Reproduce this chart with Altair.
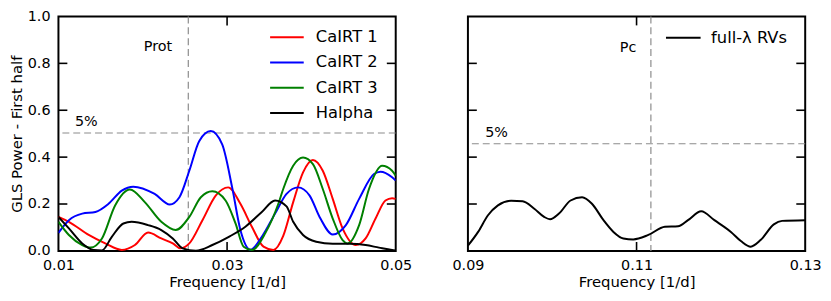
import altair as alt
import pandas as pd

# ---------------- data: left panel (first half) ----------------
series_names = ["CaIRT 1", "CaIRT 2", "CaIRT 3", "Halpha"]
series_colors = ["#ff0000", "#0000ff", "#008000", "#000000"]

f_cairt1 = [0.0100, 0.01124, 0.01359, 0.01555, 0.01751, 0.01907, 0.02063, 0.0222, 0.02356, 0.02445,
            0.02552, 0.02708, 0.02865, 0.03013, 0.03158, 0.03294, 0.03432, 0.03549, 0.03666, 0.03784,
            0.03901, 0.04018, 0.04135, 0.04253, 0.0437, 0.04526, 0.04643, 0.04761, 0.04878, 0.04957, 0.0500]
p_cairt1 = [0.145, 0.124, 0.068, 0.032, 0.004, 0.025, 0.078, 0.053, 0.032, 0.011,
            0.032, 0.131, 0.236, 0.271, 0.201, 0.103, 0.018, 0.004, 0.064, 0.208,
            0.335, 0.388, 0.342, 0.222, 0.096, 0.025, 0.053, 0.138, 0.215, 0.225, 0.222]

f_cairt2 = [0.0100, 0.01124, 0.01282, 0.01438, 0.01594, 0.01751, 0.01887, 0.02141, 0.0232, 0.02435,
            0.02552, 0.02669, 0.02806, 0.02942, 0.0306, 0.03158, 0.03276, 0.03412, 0.03569, 0.03705,
            0.03842, 0.03979, 0.04097, 0.04253, 0.04409, 0.04566, 0.04742, 0.04819, 0.04957, 0.0500]
p_cairt2 = [0.077, 0.131, 0.159, 0.166, 0.201, 0.257, 0.274, 0.243, 0.198, 0.229,
            0.342, 0.468, 0.511, 0.454, 0.271, 0.089, 0.005, 0.060, 0.159, 0.243,
            0.271, 0.236, 0.145, 0.070, 0.110, 0.222, 0.328, 0.338, 0.314, 0.300]

f_cairt3 = [0.0100, 0.01124, 0.01282, 0.01379, 0.01516, 0.01672, 0.01848, 0.02024, 0.0222, 0.0239,
            0.02552, 0.02689, 0.02825, 0.02982, 0.0310, 0.03197, 0.03294, 0.03452, 0.03608, 0.03666,
            0.03784, 0.03901, 0.04018, 0.04135, 0.04253, 0.0437, 0.04429, 0.04566, 0.04683, 0.04839,
            0.04957, 0.0500]
p_cairt3 = [0.124, 0.068, 0.025, 0.014, 0.053, 0.194, 0.262, 0.208, 0.124, 0.089,
            0.145, 0.229, 0.254, 0.215, 0.117, 0.018, 0.004, 0.075, 0.201, 0.264,
            0.363, 0.398, 0.370, 0.264, 0.138, 0.046, 0.032, 0.110, 0.264, 0.363,
            0.342, 0.321]

f_halpha = [0.0100, 0.01124, 0.01282, 0.01418, 0.01516, 0.01633, 0.0177, 0.01868, 0.02063, 0.0222,
            0.02356, 0.02473, 0.0263, 0.02825, 0.03021, 0.03217, 0.03412, 0.03569, 0.03705, 0.03784,
            0.03901, 0.04057, 0.04253, 0.04449, 0.04643, 0.04801, 0.04957, 0.0500]
p_halpha = [0.145, 0.096, 0.032, 0.004, 0.002, 0.060, 0.117, 0.124, 0.110, 0.089,
            0.053, 0.011, 0.001, 0.025, 0.060, 0.103, 0.166, 0.215, 0.190, 0.124,
            0.068, 0.039, 0.030, 0.030, 0.025, 0.014, 0.004, 0.002]

# ---------------- data: right panel ----------------
rv_name = ["full-\u03bb RVs"]
f_rv = [0.0900, 0.09121, 0.09238, 0.09356, 0.09513, 0.09649, 0.09787, 0.09904, 0.09974, 0.1008,
        0.10217, 0.10354, 0.10471, 0.10608, 0.10726, 0.10843, 0.10961, 0.1114, 0.11336, 0.11492,
        0.1161, 0.11767, 0.11923, 0.12119, 0.12237, 0.12354, 0.12471, 0.12628, 0.12725, 0.1300]
p_rv = [0.022, 0.081, 0.152, 0.194, 0.214, 0.212, 0.180, 0.145, 0.135, 0.159,
        0.215, 0.229, 0.201, 0.131, 0.081, 0.053, 0.049, 0.068, 0.103, 0.105,
        0.131, 0.169, 0.131, 0.081, 0.042, 0.018, 0.046, 0.113, 0.128, 0.131]

# reference lines and labels
prot_freq = [0.0254]
fap_left = [0.503]
pc_freq = [0.1117]
fap_right = [0.457]
left_labels = ["Prot", "5%"]
left_label_f = [0.0218, 0.0133]
left_label_p = [0.869, 0.551]
right_labels = ["Pc", "5%"]
right_label_f = [0.1090, 0.0934]
right_label_p = [0.865, 0.502]

# tick values
left_xticks = [0.01, 0.03, 0.05]
right_xticks = [0.09, 0.11, 0.13]
yticks = [0.0, 0.2, 0.4, 0.6, 0.8, 1.0]
left_inner_x = [0.03]
right_inner_x = [0.11]
inner_y = [0.2, 0.4, 0.6, 0.8]

# ---------------- build tables ----------------
rows = []
for name, fs, ps in zip(series_names, [f_cairt1, f_cairt2, f_cairt3, f_halpha],
                        [p_cairt1, p_cairt2, p_cairt3, p_halpha]):
    for f, p in zip(fs, ps):
        rows.append({"freq": f, "power": p, "series": name})
df_left = pd.DataFrame(rows)
df_right = pd.DataFrame({"freq": f_rv, "power": p_rv, "series": rv_name * len(f_rv)})

W, H = 341, 237
TICK = 9
FONT = "DejaVu Sans"
DASH = [7, 4]
GREY = "#8c8c8c"
LEG_PATH = "M-2,0H2"   # legend line twice the nominal symbol size

y_scale = alt.Scale(domain=[0, 1], nice=False, zero=False)


def x_axis(vals):
    return alt.Axis(values=vals, format=".2f", title="Frequency [1/d]", ticks=False,
                    domain=False, grid=False, labelPadding=8, titlePadding=3,
                    labelFlush=False)


y_axis_left = alt.Axis(values=yticks, format=".1f", title="GLS Power - First half",
                       ticks=False, domain=False, grid=False, labelPadding=8.5,
                       titlePadding=3)


def panel(df, xdom, xvals, inner_x, vline, hline, lab_t, lab_f, lab_p, names, colors,
          yaxis, legX, sym_len, lab_off):
    xs = alt.Scale(domain=xdom, nice=False, zero=False)
    xax = x_axis(xvals)
    X = lambda: alt.X("freq:Q", scale=xs, axis=xax)
    Y = lambda: alt.Y("power:Q", scale=y_scale, axis=yaxis)
    half = sym_len / 2.0

    lines = alt.Chart(df).mark_line(strokeWidth=2, interpolate="monotone", clip=True).encode(
        x=X(), y=Y(),
        color=alt.Color("series:N",
                        scale=alt.Scale(domain=names, range=colors),
                        legend=alt.Legend(title=None, orient="none",
                                          legendX=legX + half / 2, legendY=11.5,
                                          symbolType=LEG_PATH, symbolSize=half * half,
                                          symbolStrokeWidth=2, labelFontSize=16.5,
                                          labelFont=FONT, labelColor="black",
                                          labelOffset=lab_off + half * 0.75,
                                          rowPadding=7.5, padding=0)),
    )
    vrule = alt.Chart(pd.DataFrame({"freq": vline})).mark_rule(
        color=GREY, strokeDash=DASH, strokeWidth=1.2).encode(x=X())
    hrule = alt.Chart(pd.DataFrame({"power": hline})).mark_rule(
        color=GREY, strokeDash=DASH, strokeWidth=1.2).encode(y=Y())
    labels = alt.Chart(pd.DataFrame({"freq": lab_f, "power": lab_p, "t": lab_t})).mark_text(
        fontSize=14.5, font=FONT, color="black", align="center", baseline="middle").encode(
        x=X(), y=Y(), text="t:N")
    ydf = pd.DataFrame({"power": inner_y})
    xdf = pd.DataFrame({"freq": inner_x})
    tk = dict(color="black", strokeWidth=1.6)
    t_left = alt.Chart(ydf).mark_rule(**tk).encode(y=Y(), x=alt.value(0), x2=alt.value(TICK))
    t_right = alt.Chart(ydf).mark_rule(**tk).encode(y=Y(), x=alt.value(W - TICK), x2=alt.value(W))
    t_top = alt.Chart(xdf).mark_rule(**tk).encode(x=X(), y=alt.value(0), y2=alt.value(TICK))
    t_bot = alt.Chart(xdf).mark_rule(**tk).encode(x=X(), y=alt.value(H - TICK), y2=alt.value(H))
    return alt.layer(vrule, hrule, labels, lines, t_left, t_right, t_top, t_bot).properties(
        width=W, height=H)


left = panel(df_left, [0.01, 0.05], left_xticks, left_inner_x, prot_freq, fap_left,
             left_labels, left_label_f, left_label_p, series_names, series_colors,
             y_axis_left, 213, 34, 7)
right = panel(df_right, [0.09, 0.13], right_xticks, right_inner_x, pc_freq, fap_right,
              right_labels, right_label_f, right_label_p, rv_name, ["#000000"],
              None, 199, 35, 5)

chart = alt.hconcat(left, right, spacing=37).resolve_scale(
    x="independent", y="independent", color="independent"
).resolve_legend(color="independent").configure(
    font=FONT, padding={"left": 0, "top": -2, "right": 0, "bottom": 0}, background="white"
).configure_view(
    stroke="black", strokeWidth=2
).configure_axis(
    labelFont=FONT, titleFont=FONT, labelFontSize=14.5, titleFontSize=15,
    titleFontWeight="normal", labelColor="black", titleColor="black"
)

chart.save("out.html", embed_options={"renderer": "svg", "actions": False})
